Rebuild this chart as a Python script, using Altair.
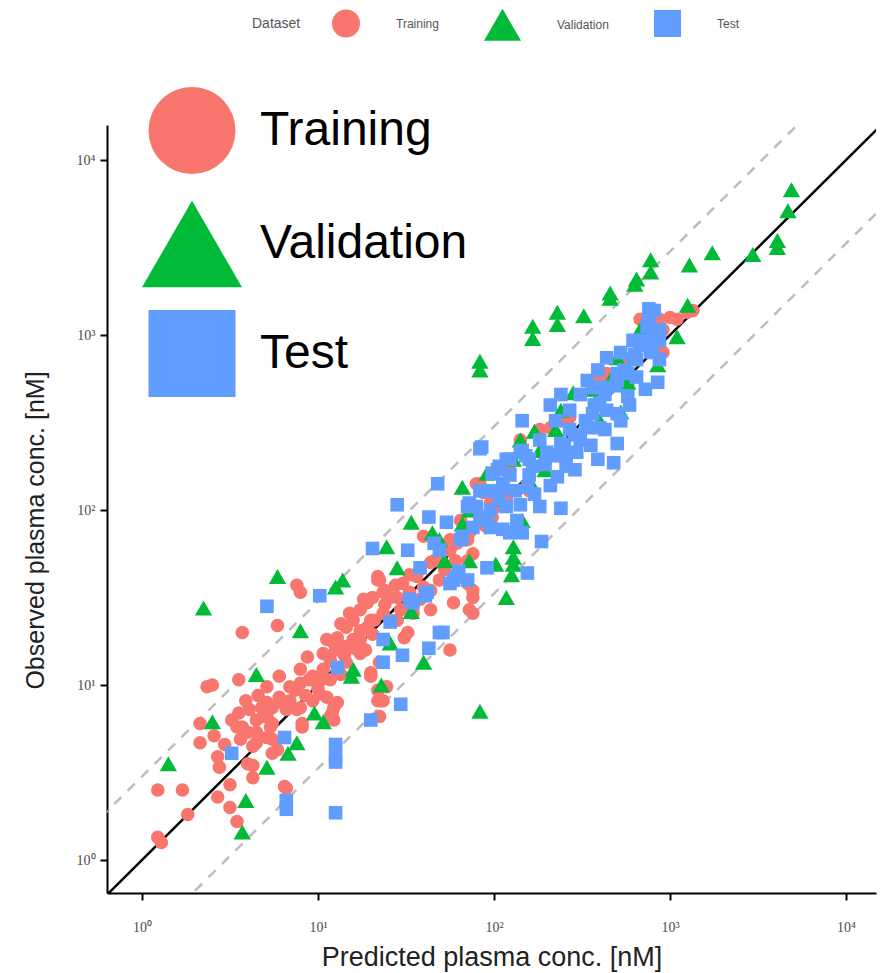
import altair as alt
import pandas as pd

# ---------------- data (log10 units) ----------------
categories = ["Training", "Validation", "Test"]
colors = ["#F8766D", "#00BA38", "#619CFF"]
shapes = ["circle", "triangle-up", "square"]

# (log10 predicted, log10 observed)
training_log10 = [
    (0.09, 0.13), (0.11, 0.10), (0.26, 0.26), (0.09, 0.40), (0.23, 0.40), (0.33, 0.67), (0.33, 0.78),
    (0.43, 0.36), (0.50, 0.43), (0.50, 0.30), (0.54, 0.22), (0.43, 0.59), (0.44, 0.53), (0.60, 0.55),
    (0.63, 0.47), (0.82, 0.41), (0.55, 0.84), (0.61, 0.86), (0.54, 0.76), (0.60, 0.73), (0.65, 0.80),
    (0.71, 0.82), (0.74, 0.87), (0.80, 0.90), (0.88, 0.86), (0.91, 0.78), (0.71, 0.70), (0.77, 0.63),
    (0.63, 0.65), (0.56, 0.69), (0.65, 0.73), (0.73, 0.76), (0.88, 1.57), (0.90, 1.53), (0.57, 1.30),
    (0.77, 1.34), (0.94, 1.16), (0.55, 1.03), (0.37, 0.99), (0.40, 1.00),
    (0.71, 0.90), (0.78, 0.93), (0.84, 0.99), (0.90, 1.01), (0.97, 1.05), (1.03, 1.09), (1.07, 1.14),
    (1.09, 1.24), (1.11, 1.27), (1.16, 1.33), (1.20, 1.37), (1.24, 1.43), (1.28, 1.47), (1.31, 1.50),
    (1.35, 1.60), (1.16, 1.22), (1.24, 1.18), (1.03, 1.18), (0.69, 0.82), (0.74, 0.78), (0.82, 0.86),
    (0.90, 0.87), (0.97, 0.91), (0.74, 0.69), (0.57, 0.76), (0.91, 0.76), (1.01, 0.95), (1.11, 0.90),
    (1.08, 0.84), (0.78, 1.05), (0.71, 0.99), (1.16, 1.13), (1.30, 1.07), (1.34, 0.91), (1.20, 1.26),
    (1.28, 1.33), (1.05, 1.26), (1.35, 1.13), (1.09, 0.87), (1.07, 0.82),
    (1.05, 0.93), (1.09, 0.80), (0.74, 0.61), (0.65, 0.67), (0.63, 0.54), (0.90, 1.09), (1.07, 1.03),
    (1.34, 1.60), (1.38, 1.54), (1.39, 0.99), (1.37, 0.91), (1.88, 1.54), (1.77, 1.47),
    (0.41, 0.71), (0.47, 0.66), (0.51, 0.80), (0.59, 0.91), (0.66, 0.94), (0.68, 0.87), (0.84, 0.91),
    (0.87, 0.97), (0.93, 0.94), (0.95, 1.03), (1.00, 0.98), (1.02, 1.03), (1.13, 1.06), (1.15, 1.17),
    (1.10, 1.20), (1.21, 1.21), (1.24, 1.26), (1.27, 1.20), (1.31, 1.29), (1.32, 1.37), (1.38, 1.46),
    (1.41, 1.50), (1.44, 1.57), (1.47, 1.43), (1.52, 1.63), (1.58, 1.66), (1.66, 1.71), (1.72, 1.66),
    (1.78, 1.71), (1.64, 1.54),
    (1.90, 2.15), (1.94, 2.10), (1.60, 1.85), (1.86, 1.43), (1.88, 1.50), (1.85, 1.58), (1.64, 1.43),
    (1.51, 1.30), (1.34, 1.62), (1.37, 1.53), (1.26, 1.49), (1.18, 1.41), (1.13, 1.35), (1.48, 1.58),
    (1.56, 1.62), (1.64, 1.70), (1.69, 1.73), (1.75, 1.77), (1.79, 1.81), (1.85, 1.83), (1.88, 1.75),
    (1.85, 1.71), (1.45, 1.50), (1.52, 1.53), (1.60, 1.56), (1.37, 1.41), (1.30, 1.37), (1.24, 1.31),
    (1.45, 1.37), (1.54, 1.41), (1.81, 1.94), (1.88, 2.00), (1.98, 2.04), (1.99, 1.96), (1.86, 1.87),
    (1.75, 1.20), (1.88, 1.41), (1.35, 0.82), (1.36, 0.91), (1.34, 0.97), (1.30, 1.05), (1.49, 1.27),
    (0.81, 0.42),
    (2.38, 2.51), (2.32, 2.47), (2.43, 2.53), (2.64, 2.76), (2.56, 2.69), (2.09, 2.23), (1.92, 2.15),
    (2.02, 2.02), (2.07, 2.07), (2.79, 2.87), (2.87, 2.97),
    (3.00, 3.10), (3.10, 3.13), (3.13, 3.14), (2.94, 3.09), (2.96, 3.03), (2.96, 2.90), (2.83, 3.09),
    (2.64, 2.78),
    (2.15, 2.40), (2.26, 2.46), (2.03, 2.23), (2.60, 2.74), (2.72, 2.86), (2.89, 3.03), (3.04, 3.09),
    (2.20, 2.11), (2.38, 2.34), (1.75, 1.83), (1.95, 1.91), (1.69, 1.60), (1.58, 1.49), (1.41, 1.37),
    (2.60, 2.63), (2.77, 2.74),
]

validation_log10 = [
    (3.69, 3.83), (3.67, 3.71), (3.61, 3.54), (3.61, 3.50), (3.47, 3.46), (3.24, 3.47), (3.11, 3.40),
    (2.89, 3.43), (2.89, 3.36), (2.81, 3.32), (2.80, 3.29), (2.66, 3.24), (2.66, 3.21), (2.51, 3.11),
    (2.36, 3.13), (2.36, 3.06), (2.22, 3.05), (2.22, 2.98), (1.92, 2.85), (1.92, 2.80), (3.10, 3.17),
    (3.04, 2.99), (2.93, 2.83), (2.70, 2.87), (2.76, 2.73), (2.72, 2.56), (2.45, 2.67), (2.23, 2.45),
    (2.29, 2.23), (2.11, 2.29), (1.82, 2.13), (1.96, 2.21), (1.53, 1.93), (1.82, 1.92), (1.65, 1.87),
    (1.39, 1.79), (1.45, 1.67), (0.77, 1.62), (1.14, 1.60), (1.10, 1.56), (0.35, 1.44), (0.90, 1.31),
    (1.41, 1.24), (0.65, 1.06), (1.20, 1.09), (1.19, 1.05), (1.36, 1.00), (1.60, 1.13), (1.92, 0.85),
    (0.40, 0.79), (0.98, 0.84), (1.03, 0.79), (0.88, 0.67), (0.83, 0.61), (0.71, 0.53), (0.15, 0.55),
    (0.59, 0.34), (0.57, 0.16), (2.11, 1.79), (2.11, 1.73), (2.11, 1.69), (2.10, 1.63), (2.01, 1.69),
    (2.07, 1.50), (2.16, 1.94), (1.53, 1.42), (2.15, 2.40), (2.38, 2.57), (2.55, 2.69), (2.66, 2.74),
    (2.26, 2.34), (2.03, 2.06), (1.86, 2.00), (1.69, 1.83), (2.83, 3.03), (2.60, 2.51), (2.46, 2.34),
    (2.35, 2.46), (2.20, 2.17), (1.86, 1.71), (1.72, 1.71),
]

test_log10 = [
    (1.45, 2.03), (1.68, 2.15), (1.63, 1.96), (1.73, 1.93), (1.31, 1.78), (1.51, 1.77), (1.58, 1.67),
    (1.80, 1.65), (1.85, 1.60), (1.77, 1.60), (1.96, 1.67), (1.01, 1.51), (0.71, 1.45), (1.54, 1.47),
    (1.61, 1.51), (1.41, 1.36), (1.37, 1.26), (1.37, 1.13), (1.48, 1.17), (1.63, 1.21), (1.69, 1.30),
    (1.11, 1.10), (1.47, 0.89), (1.30, 0.80), (0.81, 0.70), (0.51, 0.61), (1.10, 0.66), (1.10, 0.59),
    (1.10, 0.56), (0.82, 0.34), (0.82, 0.29), (1.10, 0.27), (1.85, 2.02), (1.92, 1.96), (1.88, 1.90),
    (1.98, 2.00), (1.93, 2.36), (1.66, 1.81), (1.69, 1.77), (1.82, 1.85), (1.79, 1.62), (1.75, 1.58),
    (1.62, 1.53), (1.52, 1.49), (1.90, 2.02), (1.98, 2.11), (2.05, 2.15), (2.02, 2.23), (2.09, 2.29),
    (2.16, 2.34), (2.07, 2.02), (2.13, 1.94), (1.96, 1.94), (2.05, 1.89), (2.16, 1.87), (2.19, 1.64),
    (1.71, 1.30), (1.86, 2.04), (1.92, 2.35), (2.16, 2.51), (2.32, 2.60), (2.38, 2.66), (2.53, 2.74),
    (2.60, 2.61), (2.56, 2.55), (2.53, 2.47), (2.70, 2.38), (2.59, 2.29), (2.68, 2.27), (2.26, 2.02),
    (2.38, 2.01), (2.93, 2.73), (2.43, 2.46), (2.38, 2.38), (2.47, 2.33), (2.30, 2.33), (2.22, 2.25),
    (2.15, 2.33), (2.07, 2.29), (1.99, 2.21), (1.92, 2.11), (1.86, 2.02), (2.19, 2.13), (2.05, 2.13),
    (2.36, 2.19), (2.41, 2.25), (2.70, 2.55), (2.76, 2.65), (2.81, 2.76), (2.79, 2.86), (2.89, 2.93),
    (2.90, 3.01), (2.72, 2.90), (2.64, 2.87), (2.70, 2.78), (2.59, 2.80), (2.79, 2.97), (2.87, 3.05),
    (2.60, 2.70), (2.88, 3.15), (2.88, 3.10), (2.85, 2.97), (2.89, 2.91), (2.81, 2.86), (2.76, 2.78),
    (2.70, 2.74), (2.56, 2.70), (2.64, 2.70), (2.94, 2.97), (2.93, 3.03), (2.90, 2.90), (2.94, 2.86),
    (2.27, 1.82), (2.09, 1.87), (2.03, 2.25), (2.20, 2.29), (2.41, 2.30), (2.49, 2.40), (2.60, 2.47),
    (2.64, 2.57), (1.98, 1.90), (1.81, 1.83),
    (2.03, 2.06), (2.12, 2.11), (2.20, 2.20), (2.29, 2.26), (2.35, 2.31), (2.40, 2.37), (2.46, 2.43),
    (2.52, 2.51), (2.57, 2.60), (2.63, 2.66), (2.69, 2.71), (2.74, 2.80), (2.80, 2.89), (2.83, 2.94),
    (2.15, 2.03), (2.23, 2.09), (2.32, 2.14), (2.46, 2.23), (2.55, 2.37), (2.63, 2.46), (2.72, 2.51),
    (2.77, 2.60), (2.86, 2.69), (2.49, 2.66), (2.43, 2.57), (2.35, 2.51), (2.26, 2.40), (2.18, 2.31),
    (2.09, 2.20), (2.01, 2.11), (2.94, 3.03), (2.91, 3.14),
]

tick_values = [1, 10, 100, 1000, 10000]
x_domain = [0.633, 14800]
y_domain = [0.648, 15850]
fold = 3
line_ends = [0.1, 100000]

# ---------------- tables ----------------
rows = []
for cat, pts in zip(categories, [training_log10, validation_log10, test_log10]):
    for p, o in pts:
        rows.append({"dataset": cat, "pred": 10 ** p, "obs": 10 ** o})
df = pd.DataFrame(rows)

line_rows = []
for name, factor in [("identity", 1), ("upper", fold), ("lower", 1 / fold)]:
    for v in line_ends:
        line_rows.append({"line": name, "pred": v, "obs": v * factor})
lines_df = pd.DataFrame(line_rows)

label_expr = "'10' + ['\u2070','\u00b9','\u00b2','\u00b3','\u2074'][round(log(datum.value)/LN10)]"

x_enc = alt.X(
    "pred:Q",
    scale=alt.Scale(type="log", domain=x_domain, nice=False),
    axis=alt.Axis(
        values=tick_values, labelExpr=label_expr, grid=False,
        domainColor="black", domainWidth=2, tickColor="black", tickWidth=2, tickSize=7,
        labelFont="Liberation Serif", labelFontSize=14, labelColor="#4d4d4d",
        labelPadding=20, labelFlush=False,
        title="Predicted plasma conc. [nM]", titleFont="Liberation Sans", titleFontSize=27,
        titleFontWeight="normal", titleColor="#222222", titleY=72, titleBaseline="alphabetic",
    ),
)
y_enc = alt.Y(
    "obs:Q",
    scale=alt.Scale(type="log", domain=y_domain, nice=False),
    axis=alt.Axis(
        values=tick_values, labelExpr=label_expr, grid=False,
        domainColor="black", domainWidth=2, tickColor="black", tickWidth=2, tickSize=7,
        labelFont="Liberation Serif", labelFontSize=14, labelColor="#4d4d4d",
        labelPadding=5, labelFlush=False,
        title="Observed plasma conc. [nM]", titleFont="Liberation Sans", titleFontSize=25,
        titleFontWeight="normal", titleColor="#222222", titleX=-64, titleY=405,
        titleBaseline="alphabetic", titleAngle=270, titleAlign="center",
    ),
)

dashed = alt.Chart(lines_df).transform_filter(alt.datum.line != "identity").mark_line(
    color="#BDBDBD", strokeWidth=2.5, strokeDash=[10, 9], clip=True
).encode(x=x_enc, y=y_enc, detail="line:N")

identity = alt.Chart(lines_df).transform_filter(alt.datum.line == "identity").mark_line(
    color="black", strokeWidth=2.5, clip=True
).encode(x=x_enc, y=y_enc)

points = alt.Chart(df).mark_point(filled=True, opacity=1, strokeWidth=0).encode(
    x=x_enc, y=y_enc,
    color=alt.Color("dataset:N", scale=alt.Scale(domain=categories, range=colors), legend=None),
    shape=alt.Shape("dataset:N", scale=alt.Scale(domain=categories, range=shapes), legend=None),
    size=alt.Size("dataset:N", scale=alt.Scale(type="ordinal", domain=categories, range=[185, 300, 185]), legend=None),
)

top_legend = alt.Legend(
    title="Dataset", orient="none", legendX=145, legendY=-120, direction="horizontal",
    titleOrient="left", titleFont="Liberation Sans", titleFontSize=14, titleFontWeight="normal",
    titleColor="#555555", titlePadding=30, labelFont="Liberation Sans", labelFontSize=12,
    labelColor="#555555", labelOffset=35, columnPadding=42, symbolOpacity=1, padding=0,
)
legend_top_layer = alt.Chart(df).mark_point(filled=True, opacity=0).encode(
    x=x_enc, y=y_enc,
    color=alt.Color("dataset:N", scale=alt.Scale(domain=categories, range=colors), legend=top_legend),
    shape=alt.Shape("dataset:N", scale=alt.Scale(domain=categories, range=shapes), legend=top_legend),
    size=alt.Size("dataset:N", scale=alt.Scale(type="ordinal", domain=categories, range=[784, 1369, 729]), legend=top_legend),
)

big_legend = alt.Legend(
    title=None, orient="none", legendX=34, legendY=-39, direction="vertical",
    labelFont="Liberation Sans", labelFontSize=48, labelColor="black", labelOffset=17,
    labelLimit=0, rowPadding=16, symbolOpacity=1, padding=0,
)
legend_big_layer = alt.Chart(df).mark_point(filled=True, opacity=0).encode(
    x=x_enc, y=y_enc,
    color=alt.Color("dataset:N", scale=alt.Scale(domain=categories, range=colors), legend=big_legend),
    shape=alt.Shape("dataset:N", scale=alt.Scale(domain=categories, range=shapes), legend=big_legend),
    size=alt.Size("dataset:N", scale=alt.Scale(type="ordinal", domain=categories, range=[7569, 10000, 7569]), legend=big_legend),
)

chart = alt.layer(dashed, identity, points, legend_top_layer, legend_big_layer).resolve_scale(
    color="independent", shape="independent", size="independent"
).properties(
    width=769, height=768,
    padding={"left": 107, "top": 125, "right": 10, "bottom": 80},
    autosize=alt.AutoSizeParams(type="none"),
    background="white",
).configure_view(stroke=None)

chart.save("out.html", embed_options={"renderer": "svg", "actions": False})
